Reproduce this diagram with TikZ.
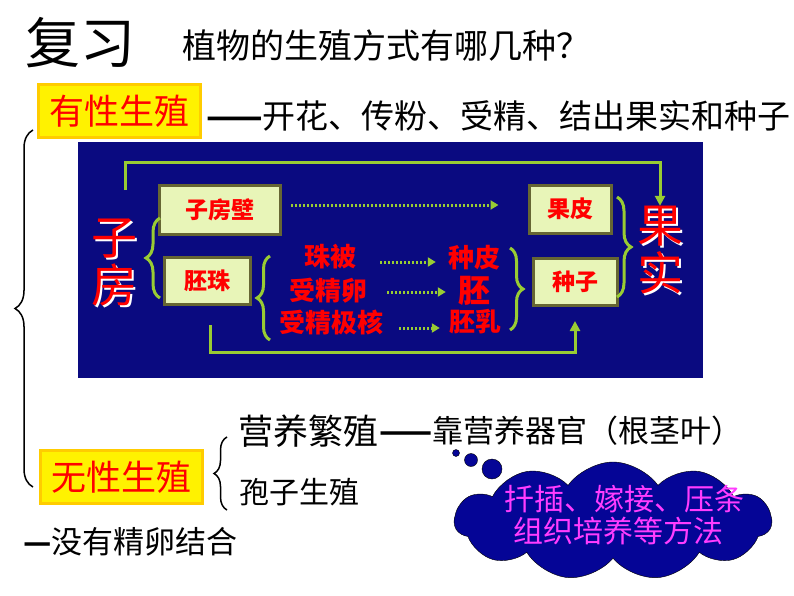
\documentclass[tikz,border=0pt]{standalone}
\usepackage{fontspec}
\usepackage{xcolor}
\usepackage{tikz}
\usetikzlibrary{arrows.meta,positioning,shapes.symbols,decorations.pathreplacing}

\newfontfamily\cjk{Noto Sans CJK SC}
\newcommand{\cjksize}[1]{\fontsize{#1}{1.05\dimexpr#1pt\relax}\selectfont}
\newcommand{\shadowed}[1]{\makebox[0pt][l]{\kern2pt\raisebox{-2pt}{\color{white}#1}}#1}

\definecolor{navy}{RGB}{10,10,128}
\definecolor{leaf}{RGB}{153,204,51}
\definecolor{pale}{RGB}{232,245,184}
\definecolor{olivebd}{RGB}{102,102,51}
\definecolor{goldbd}{RGB}{255,204,0}
\definecolor{cloudblue}{RGB}{5,5,150}
\definecolor{pinktxt}{RGB}{255,60,255}

\begin{document}
\begin{tikzpicture}[
  x=1pt, y=-1pt,
  txt/.style={inner sep=0pt, font=\cjk\cjksize{#1}},
  txt/.default=33,
  ybox/.style={draw=goldbd, fill=yellow, line width=3pt, minimum width=162pt, minimum height=53pt,
    inner sep=0pt, text=red, font=\cjk\cjksize{35}},
  gbox/.style={draw=olivebd, fill=pale, line width=3pt, inner sep=0pt, text=red,
    font=\cjk\bfseries\cjksize{23}},
  redt/.style={inner sep=0pt, text=red, font=\cjk\bfseries\cjksize{#1}},
  redt/.default=26,
  big/.style={inner sep=0pt, align=center, text=red, font=\cjk\fontsize{46}{48}\selectfont},
  grn/.style={leaf, line width=3pt, -{Triangle[length=10pt,width=10pt]}},
  dots/.style={leaf, line width=3pt, dash pattern=on 2pt off 2pt, -{Triangle[length=8pt,width=9pt]}},
  brc/.style={decorate, decoration={brace, amplitude=#1}},
  bub/.style={circle, draw=black, fill=cloudblue, inner sep=0pt}
]
\useasboundingbox (0,0) rectangle (794,596);

% Title
\node[txt=55] (fuxi) at (80,43) {复习};
\node[txt=34] (question) at (386,46) {植物的生殖方式有哪几种？};

% Sexual reproduction
\node[ybox] (youxing) at (119,111) {有性生殖};
\node[txt=33, anchor=west] (youxing-txt) at (206,116) {{\bfseries ——}开花、传粉、受精、结出果实和种子};

% Blue panel
\node[fill=navy, minimum width=625pt, minimum height=236pt, inner sep=0pt] (panel) at (390.5,260) {};

\node[big] (zifang) at (114,263) {\shadowed{子}\\\shadowed{房}};
\node[big] (guoshi) at (660,251) {\shadowed{果}\\\shadowed{实}};

\node[gbox, minimum width=121pt, minimum height=49pt] (zfb) at (220,210) {子房壁};
\node[gbox, minimum width=82pt, minimum height=48pt] (guopi) at (570,209) {果皮};
\node[gbox, minimum width=86pt, minimum height=47pt] (peizhu) at (207,281) {胚珠};
\node[gbox, minimum width=84pt, minimum height=47pt] (zhongzi) at (575,282) {种子};

\node[redt] (zhubei) at (330,257) {珠被};
\node[redt] (luan) at (328,291) {受精卵};
\node[redt] (jihe) at (331,322) {受精极核};
\node[redt] (zhongpi) at (474,258) {种皮};
\node[redt=32] (pei) at (474,291) {胚};
\node[redt] (peiru) at (475,322) {胚乳};

% Green braces
\coordinate (zf-b) at (160,298);
\coordinate (zf-t) at (160,218);
\draw[brc=14, leaf, line width=3pt] (zf-b) -- (zf-t);
\coordinate (pz-b) at (270,340);
\coordinate (pz-t) at (270,256);
\draw[brc=13, leaf, line width=3pt] (pz-b) -- (pz-t);
\coordinate (zp-t) at (510,248);
\coordinate (zp-b) at (510,330);
\draw[brc=13, leaf, line width=3pt] (zp-t) -- (zp-b);
\coordinate (gs-t) at (617,197);
\coordinate (gs-b) at (617,297);
\draw[brc=14, leaf, line width=3pt] (gs-t) -- (gs-b);

% Arrows
\coordinate (topstart) at (125,190);
\draw[grn] (topstart) -- ++(0,-27) -| (guoshi.north);
\coordinate (botstart) at (210,325);
\draw[grn, shorten >=14pt] (botstart) -- ++(0,27) -| (zhongzi.south);
\draw[dots, shorten <=9pt, shorten >=29pt] ([yshift=5pt]zfb.east) -- ([yshift=4pt]guopi.west);
\draw[dots, shorten <=24pt, shorten >=12pt] ([yshift=-5pt]zhubei.east) -- ([yshift=-4pt]zhongpi.west);
\draw[dots, shorten <=20pt, shorten >=12pt] ([yshift=-1pt]luan.east) -- ([yshift=-1pt]pei.west);
\draw[dots, shorten <=16pt, shorten >=9pt] ([yshift=-6pt]jihe.east) -- ([yshift=-6pt]peiru.west);

% Big brace
\coordinate (big-b) at (33,487);
\coordinate (big-t) at (33,130);
\draw[brc=18, line width=1.5pt] (big-b) -- (big-t);

% Asexual reproduction
\node[ybox] (wuxing) at (121,477) {无性生殖};
\coordinate (wx-b) at (227,510);
\coordinate (wx-t) at (227,437);
\draw[brc=13, line width=1.5pt] (wx-b) -- (wx-t);
\node[txt=35] (yingyang) at (308,431) {营养繁殖};
\node[txt=31, anchor=west] (qiguan) at (379,431) {{\bfseries ——}靠营养器官（根茎叶）};
\node[txt=30] (baozi) at (299,492) {孢子生殖};
\node[txt=31, anchor=west] (meiyou) at (23,542) {{\bfseries —}没有精卵结合};

% Thought cloud
\node[bub, minimum size=7pt] (bub1) at (456,453) {};
\node[bub, minimum size=13pt] (bub2) at (471,460) {};
\node[bub, minimum size=20pt] (bub3) at (492,469) {};
\node[cloud, cloud puffs=11, cloud puff arc=110, aspect=2.6, draw=black, fill=cloudblue,
  minimum width=317pt, minimum height=118pt] (cloud) at (613,521) {};
\node[txt=30, text=pinktxt] (line1) at (624,499) {扦插、嫁接、压条};
\node[txt=30, text=pinktxt] (line2) at (618,531) {组织培养等方法};

\end{tikzpicture}
\end{document}
